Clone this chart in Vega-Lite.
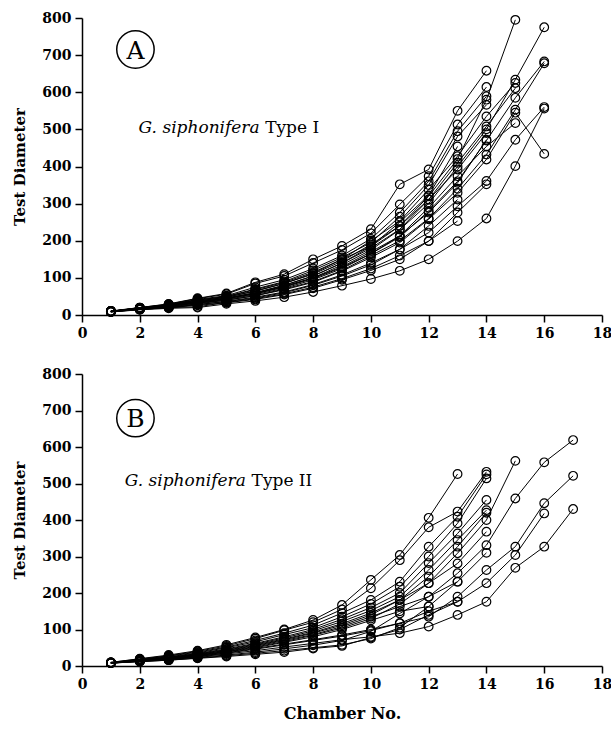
{
"$schema": "https://vega.github.io/schema/vega-lite/v6.json",
"background": "white",
"padding": {"left": 12, "top": 11, "right": 0, "bottom": 0},
"config": {
  "view": {"stroke": null},
  "axis": {"grid": false, "domainColor": "black", "domainWidth": 1.5, "tickColor": "black", "tickWidth": 1.5, "tickSize": 7, "labelOverlap": false, "labelFlush": false, "labelFont": "DejaVu Serif", "labelFontWeight": "bold", "labelFontSize": 14, "labelColor": "black", "labelPadding": 4, "titleFont": "DejaVu Serif", "titleFontWeight": "bold", "titleFontSize": 15, "titleColor": "black"},
  "axisX": {"labelOverlap": false, "labelFlush": false},
  "axisY": {"labelOverlap": false, "labelFlush": false}
},
"datasets": {
"A": [
{"s":"A1","c":1,"d":10},{"s":"A1","c":2,"d":18},{"s":"A1","c":3,"d":25},{"s":"A1","c":4,"d":35},{"s":"A1","c":5,"d":45},{"s":"A1","c":6,"d":60},{"s":"A1","c":7,"d":80},{"s":"A1","c":8,"d":105},{"s":"A1","c":9,"d":140},{"s":"A1","c":10,"d":185},{"s":"A1","c":11,"d":240},{"s":"A1","c":12,"d":320},{"s":"A1","c":13,"d":420},{"s":"A1","c":14,"d":580},{"s":"A1","c":15,"d":795},
{"s":"A2","c":1,"d":10},{"s":"A2","c":2,"d":17},{"s":"A2","c":3,"d":24},{"s":"A2","c":4,"d":33},{"s":"A2","c":5,"d":44},{"s":"A2","c":6,"d":58},{"s":"A2","c":7,"d":78},{"s":"A2","c":8,"d":100},{"s":"A2","c":9,"d":135},{"s":"A2","c":10,"d":175},{"s":"A2","c":11,"d":230},{"s":"A2","c":12,"d":300},{"s":"A2","c":13,"d":400},{"s":"A2","c":14,"d":500},{"s":"A2","c":15,"d":634},{"s":"A2","c":16,"d":775},
{"s":"A3","c":1,"d":9},{"s":"A3","c":2,"d":16},{"s":"A3","c":3,"d":23},{"s":"A3","c":4,"d":32},{"s":"A3","c":5,"d":42},{"s":"A3","c":6,"d":55},{"s":"A3","c":7,"d":72},{"s":"A3","c":8,"d":95},{"s":"A3","c":9,"d":125},{"s":"A3","c":10,"d":165},{"s":"A3","c":11,"d":210},{"s":"A3","c":12,"d":280},{"s":"A3","c":13,"d":360},{"s":"A3","c":14,"d":470},{"s":"A3","c":15,"d":585},{"s":"A3","c":16,"d":683},
{"s":"A4","c":1,"d":9},{"s":"A4","c":2,"d":16},{"s":"A4","c":3,"d":22},{"s":"A4","c":4,"d":30},{"s":"A4","c":5,"d":40},{"s":"A4","c":6,"d":52},{"s":"A4","c":7,"d":70},{"s":"A4","c":8,"d":90},{"s":"A4","c":9,"d":120},{"s":"A4","c":10,"d":160},{"s":"A4","c":11,"d":200},{"s":"A4","c":12,"d":260},{"s":"A4","c":13,"d":340},{"s":"A4","c":14,"d":432},{"s":"A4","c":15,"d":553},{"s":"A4","c":16,"d":678},
{"s":"A5","c":1,"d":8},{"s":"A5","c":2,"d":15},{"s":"A5","c":3,"d":20},{"s":"A5","c":4,"d":28},{"s":"A5","c":5,"d":37},{"s":"A5","c":6,"d":48},{"s":"A5","c":7,"d":62},{"s":"A5","c":8,"d":82},{"s":"A5","c":9,"d":108},{"s":"A5","c":10,"d":140},{"s":"A5","c":11,"d":177},{"s":"A5","c":12,"d":222},{"s":"A5","c":13,"d":293},{"s":"A5","c":14,"d":361},{"s":"A5","c":15,"d":472},{"s":"A5","c":16,"d":560},
{"s":"A6","c":1,"d":8},{"s":"A6","c":2,"d":14},{"s":"A6","c":3,"d":18},{"s":"A6","c":4,"d":20},{"s":"A6","c":5,"d":30},{"s":"A6","c":6,"d":38},{"s":"A6","c":7,"d":48},{"s":"A6","c":8,"d":62},{"s":"A6","c":9,"d":79},{"s":"A6","c":10,"d":97},{"s":"A6","c":11,"d":119},{"s":"A6","c":12,"d":150},{"s":"A6","c":13,"d":199},{"s":"A6","c":14,"d":260},{"s":"A6","c":15,"d":401},{"s":"A6","c":16,"d":556},
{"s":"A7","c":1,"d":10},{"s":"A7","c":2,"d":17},{"s":"A7","c":3,"d":24},{"s":"A7","c":4,"d":32},{"s":"A7","c":5,"d":40},{"s":"A7","c":6,"d":52},{"s":"A7","c":7,"d":68},{"s":"A7","c":8,"d":88},{"s":"A7","c":9,"d":118},{"s":"A7","c":10,"d":155},{"s":"A7","c":11,"d":195},{"s":"A7","c":12,"d":258},{"s":"A7","c":13,"d":329},{"s":"A7","c":14,"d":419},{"s":"A7","c":15,"d":545},{"s":"A7","c":16,"d":434},
{"s":"A8","c":1,"d":10},{"s":"A8","c":2,"d":19},{"s":"A8","c":3,"d":27},{"s":"A8","c":4,"d":37},{"s":"A8","c":5,"d":48},{"s":"A8","c":6,"d":64},{"s":"A8","c":7,"d":85},{"s":"A8","c":8,"d":112},{"s":"A8","c":9,"d":150},{"s":"A8","c":10,"d":200},{"s":"A8","c":11,"d":253},{"s":"A8","c":12,"d":338},{"s":"A8","c":13,"d":428},{"s":"A8","c":14,"d":535},{"s":"A8","c":15,"d":625},
{"s":"A9","c":1,"d":10},{"s":"A9","c":2,"d":18},{"s":"A9","c":3,"d":26},{"s":"A9","c":4,"d":35},{"s":"A9","c":5,"d":46},{"s":"A9","c":6,"d":60},{"s":"A9","c":7,"d":80},{"s":"A9","c":8,"d":105},{"s":"A9","c":9,"d":140},{"s":"A9","c":10,"d":180},{"s":"A9","c":11,"d":231},{"s":"A9","c":12,"d":311},{"s":"A9","c":13,"d":410},{"s":"A9","c":14,"d":508},{"s":"A9","c":15,"d":611},
{"s":"A10","c":1,"d":10},{"s":"A10","c":2,"d":18},{"s":"A10","c":3,"d":25},{"s":"A10","c":4,"d":34},{"s":"A10","c":5,"d":44},{"s":"A10","c":6,"d":57},{"s":"A10","c":7,"d":75},{"s":"A10","c":8,"d":98},{"s":"A10","c":9,"d":128},{"s":"A10","c":10,"d":165},{"s":"A10","c":11,"d":213},{"s":"A10","c":12,"d":289},{"s":"A10","c":13,"d":374},{"s":"A10","c":14,"d":454},{"s":"A10","c":15,"d":517},
{"s":"A11","c":1,"d":11},{"s":"A11","c":2,"d":20},{"s":"A11","c":3,"d":30},{"s":"A11","c":4,"d":45},{"s":"A11","c":5,"d":58},{"s":"A11","c":6,"d":88},{"s":"A11","c":7,"d":110},{"s":"A11","c":8,"d":150},{"s":"A11","c":9,"d":186},{"s":"A11","c":10,"d":231},{"s":"A11","c":11,"d":352},{"s":"A11","c":12,"d":392},{"s":"A11","c":13,"d":550},{"s":"A11","c":14,"d":658},
{"s":"A12","c":1,"d":10},{"s":"A12","c":2,"d":20},{"s":"A12","c":3,"d":29},{"s":"A12","c":4,"d":44},{"s":"A12","c":5,"d":56},{"s":"A12","c":6,"d":85},{"s":"A12","c":7,"d":105},{"s":"A12","c":8,"d":140},{"s":"A12","c":9,"d":175},{"s":"A12","c":10,"d":220},{"s":"A12","c":11,"d":298},{"s":"A12","c":12,"d":374},{"s":"A12","c":13,"d":513},{"s":"A12","c":14,"d":614},
{"s":"A13","c":1,"d":10},{"s":"A13","c":2,"d":19},{"s":"A13","c":3,"d":28},{"s":"A13","c":4,"d":42},{"s":"A13","c":5,"d":52},{"s":"A13","c":6,"d":75},{"s":"A13","c":7,"d":95},{"s":"A13","c":8,"d":125},{"s":"A13","c":9,"d":160},{"s":"A13","c":10,"d":205},{"s":"A13","c":11,"d":276},{"s":"A13","c":12,"d":360},{"s":"A13","c":13,"d":495},{"s":"A13","c":14,"d":589},
{"s":"A14","c":1,"d":10},{"s":"A14","c":2,"d":19},{"s":"A14","c":3,"d":27},{"s":"A14","c":4,"d":40},{"s":"A14","c":5,"d":50},{"s":"A14","c":6,"d":70},{"s":"A14","c":7,"d":90},{"s":"A14","c":8,"d":120},{"s":"A14","c":9,"d":155},{"s":"A14","c":10,"d":195},{"s":"A14","c":11,"d":265},{"s":"A14","c":12,"d":350},{"s":"A14","c":13,"d":481},{"s":"A14","c":14,"d":566},
{"s":"A15","c":1,"d":10},{"s":"A15","c":2,"d":18},{"s":"A15","c":3,"d":27},{"s":"A15","c":4,"d":38},{"s":"A15","c":5,"d":48},{"s":"A15","c":6,"d":65},{"s":"A15","c":7,"d":85},{"s":"A15","c":8,"d":110},{"s":"A15","c":9,"d":145},{"s":"A15","c":10,"d":190},{"s":"A15","c":11,"d":240},{"s":"A15","c":12,"d":311},{"s":"A15","c":13,"d":392},{"s":"A15","c":14,"d":490},
{"s":"A16","c":1,"d":10},{"s":"A16","c":2,"d":18},{"s":"A16","c":3,"d":26},{"s":"A16","c":4,"d":36},{"s":"A16","c":5,"d":45},{"s":"A16","c":6,"d":58},{"s":"A16","c":7,"d":76},{"s":"A16","c":8,"d":100},{"s":"A16","c":9,"d":130},{"s":"A16","c":10,"d":170},{"s":"A16","c":11,"d":213},{"s":"A16","c":12,"d":276},{"s":"A16","c":13,"d":356},{"s":"A16","c":14,"d":472},
{"s":"A17","c":1,"d":9},{"s":"A17","c":2,"d":15},{"s":"A17","c":3,"d":20},{"s":"A17","c":4,"d":26},{"s":"A17","c":5,"d":33},{"s":"A17","c":6,"d":42},{"s":"A17","c":7,"d":55},{"s":"A17","c":8,"d":72},{"s":"A17","c":9,"d":95},{"s":"A17","c":10,"d":120},{"s":"A17","c":11,"d":150},{"s":"A17","c":12,"d":199},{"s":"A17","c":13,"d":276},{"s":"A17","c":14,"d":352},
{"s":"A18","c":1,"d":10},{"s":"A18","c":2,"d":19},{"s":"A18","c":3,"d":28},{"s":"A18","c":4,"d":40},{"s":"A18","c":5,"d":50},{"s":"A18","c":6,"d":68},{"s":"A18","c":7,"d":88},{"s":"A18","c":8,"d":115},{"s":"A18","c":9,"d":150},{"s":"A18","c":10,"d":185},{"s":"A18","c":11,"d":250},{"s":"A18","c":12,"d":322},{"s":"A18","c":13,"d":454},
{"s":"A19","c":1,"d":9},{"s":"A19","c":2,"d":16},{"s":"A19","c":3,"d":21},{"s":"A19","c":4,"d":28},{"s":"A19","c":5,"d":36},{"s":"A19","c":6,"d":46},{"s":"A19","c":7,"d":60},{"s":"A19","c":8,"d":80},{"s":"A19","c":9,"d":105},{"s":"A19","c":10,"d":135},{"s":"A19","c":11,"d":177},{"s":"A19","c":12,"d":240},{"s":"A19","c":13,"d":311},
{"s":"A20","c":1,"d":9},{"s":"A20","c":2,"d":15},{"s":"A20","c":3,"d":20},{"s":"A20","c":4,"d":22},{"s":"A20","c":5,"d":34},{"s":"A20","c":6,"d":44},{"s":"A20","c":7,"d":57},{"s":"A20","c":8,"d":75},{"s":"A20","c":9,"d":98},{"s":"A20","c":10,"d":125},{"s":"A20","c":11,"d":160},{"s":"A20","c":12,"d":199},{"s":"A20","c":13,"d":253}
],
"B": [
{"s":"B1","c":1,"d":10},{"s":"B1","c":2,"d":20},{"s":"B1","c":3,"d":30},{"s":"B1","c":4,"d":42},{"s":"B1","c":5,"d":58},{"s":"B1","c":6,"d":78},{"s":"B1","c":7,"d":100},{"s":"B1","c":8,"d":126},{"s":"B1","c":9,"d":167},{"s":"B1","c":10,"d":236},{"s":"B1","c":11,"d":304},{"s":"B1","c":12,"d":406},{"s":"B1","c":13,"d":526},
{"s":"B2","c":1,"d":10},{"s":"B2","c":2,"d":19},{"s":"B2","c":3,"d":28},{"s":"B2","c":4,"d":40},{"s":"B2","c":5,"d":55},{"s":"B2","c":6,"d":75},{"s":"B2","c":7,"d":98},{"s":"B2","c":8,"d":120},{"s":"B2","c":9,"d":155},{"s":"B2","c":10,"d":213},{"s":"B2","c":11,"d":290},{"s":"B2","c":12,"d":380},{"s":"B2","c":13,"d":423},{"s":"B2","c":14,"d":532},
{"s":"B3","c":1,"d":9},{"s":"B3","c":2,"d":18},{"s":"B3","c":3,"d":27},{"s":"B3","c":4,"d":38},{"s":"B3","c":5,"d":52},{"s":"B3","c":6,"d":70},{"s":"B3","c":7,"d":90},{"s":"B3","c":8,"d":112},{"s":"B3","c":9,"d":145},{"s":"B3","c":10,"d":181},{"s":"B3","c":11,"d":231},{"s":"B3","c":12,"d":327},{"s":"B3","c":13,"d":409},{"s":"B3","c":14,"d":525},
{"s":"B4","c":1,"d":9},{"s":"B4","c":2,"d":17},{"s":"B4","c":3,"d":25},{"s":"B4","c":4,"d":36},{"s":"B4","c":5,"d":50},{"s":"B4","c":6,"d":66},{"s":"B4","c":7,"d":86},{"s":"B4","c":8,"d":105},{"s":"B4","c":9,"d":135},{"s":"B4","c":10,"d":170},{"s":"B4","c":11,"d":217},{"s":"B4","c":12,"d":300},{"s":"B4","c":13,"d":391},{"s":"B4","c":14,"d":514},
{"s":"B5","c":1,"d":9},{"s":"B5","c":2,"d":17},{"s":"B5","c":3,"d":24},{"s":"B5","c":4,"d":34},{"s":"B5","c":5,"d":47},{"s":"B5","c":6,"d":62},{"s":"B5","c":7,"d":80},{"s":"B5","c":8,"d":100},{"s":"B5","c":9,"d":128},{"s":"B5","c":10,"d":160},{"s":"B5","c":11,"d":200},{"s":"B5","c":12,"d":282},{"s":"B5","c":13,"d":363},{"s":"B5","c":14,"d":455},
{"s":"B6","c":1,"d":9},{"s":"B6","c":2,"d":16},{"s":"B6","c":3,"d":23},{"s":"B6","c":4,"d":33},{"s":"B6","c":5,"d":45},{"s":"B6","c":6,"d":60},{"s":"B6","c":7,"d":77},{"s":"B6","c":8,"d":96},{"s":"B6","c":9,"d":122},{"s":"B6","c":10,"d":152},{"s":"B6","c":11,"d":190},{"s":"B6","c":12,"d":263},{"s":"B6","c":13,"d":345},{"s":"B6","c":14,"d":427},
{"s":"B7","c":1,"d":9},{"s":"B7","c":2,"d":16},{"s":"B7","c":3,"d":23},{"s":"B7","c":4,"d":32},{"s":"B7","c":5,"d":43},{"s":"B7","c":6,"d":58},{"s":"B7","c":7,"d":74},{"s":"B7","c":8,"d":92},{"s":"B7","c":9,"d":116},{"s":"B7","c":10,"d":145},{"s":"B7","c":11,"d":181},{"s":"B7","c":12,"d":245},{"s":"B7","c":13,"d":327},{"s":"B7","c":14,"d":420},
{"s":"B8","c":1,"d":9},{"s":"B8","c":2,"d":16},{"s":"B8","c":3,"d":22},{"s":"B8","c":4,"d":31},{"s":"B8","c":5,"d":42},{"s":"B8","c":6,"d":56},{"s":"B8","c":7,"d":72},{"s":"B8","c":8,"d":90},{"s":"B8","c":9,"d":112},{"s":"B8","c":10,"d":140},{"s":"B8","c":11,"d":181},{"s":"B8","c":12,"d":227},{"s":"B8","c":13,"d":309},{"s":"B8","c":14,"d":400},{"s":"B8","c":15,"d":562},
{"s":"B9","c":1,"d":9},{"s":"B9","c":2,"d":15},{"s":"B9","c":3,"d":21},{"s":"B9","c":4,"d":30},{"s":"B9","c":5,"d":40},{"s":"B9","c":6,"d":54},{"s":"B9","c":7,"d":70},{"s":"B9","c":8,"d":86},{"s":"B9","c":9,"d":108},{"s":"B9","c":10,"d":135},{"s":"B9","c":11,"d":163},{"s":"B9","c":12,"d":190},{"s":"B9","c":13,"d":254},{"s":"B9","c":14,"d":331},{"s":"B9","c":15,"d":459},{"s":"B9","c":16,"d":558},{"s":"B9","c":17,"d":619},
{"s":"B10","c":1,"d":9},{"s":"B10","c":2,"d":15},{"s":"B10","c":3,"d":21},{"s":"B10","c":4,"d":29},{"s":"B10","c":5,"d":39},{"s":"B10","c":6,"d":52},{"s":"B10","c":7,"d":67},{"s":"B10","c":8,"d":84},{"s":"B10","c":9,"d":104},{"s":"B10","c":10,"d":130},{"s":"B10","c":11,"d":170},{"s":"B10","c":12,"d":227},{"s":"B10","c":13,"d":281},{"s":"B10","c":14,"d":368},
{"s":"B11","c":1,"d":8},{"s":"B11","c":2,"d":15},{"s":"B11","c":3,"d":20},{"s":"B11","c":4,"d":28},{"s":"B11","c":5,"d":38},{"s":"B11","c":6,"d":50},{"s":"B11","c":7,"d":65},{"s":"B11","c":8,"d":80},{"s":"B11","c":9,"d":100},{"s":"B11","c":10,"d":125},{"s":"B11","c":11,"d":150},{"s":"B11","c":12,"d":163},{"s":"B11","c":13,"d":231},{"s":"B11","c":14,"d":310},
{"s":"B12","c":1,"d":8},{"s":"B12","c":2,"d":14},{"s":"B12","c":3,"d":19},{"s":"B12","c":4,"d":27},{"s":"B12","c":5,"d":36},{"s":"B12","c":6,"d":48},{"s":"B12","c":7,"d":60},{"s":"B12","c":8,"d":72},{"s":"B12","c":9,"d":85},{"s":"B12","c":10,"d":100},{"s":"B12","c":11,"d":117},{"s":"B12","c":12,"d":135},{"s":"B12","c":13,"d":190},{"s":"B12","c":14,"d":263},{"s":"B12","c":15,"d":327},{"s":"B12","c":16,"d":446},{"s":"B12","c":17,"d":521},
{"s":"B13","c":1,"d":8},{"s":"B13","c":2,"d":14},{"s":"B13","c":3,"d":19},{"s":"B13","c":4,"d":26},{"s":"B13","c":5,"d":35},{"s":"B13","c":6,"d":46},{"s":"B13","c":7,"d":58},{"s":"B13","c":8,"d":70},{"s":"B13","c":9,"d":82},{"s":"B13","c":10,"d":97},{"s":"B13","c":11,"d":117},{"s":"B13","c":12,"d":150},{"s":"B13","c":13,"d":176},{"s":"B13","c":14,"d":227},{"s":"B13","c":15,"d":304},{"s":"B13","c":16,"d":418},
{"s":"B14","c":1,"d":8},{"s":"B14","c":2,"d":13},{"s":"B14","c":3,"d":18},{"s":"B14","c":4,"d":25},{"s":"B14","c":5,"d":33},{"s":"B14","c":6,"d":42},{"s":"B14","c":7,"d":52},{"s":"B14","c":8,"d":62},{"s":"B14","c":9,"d":72},{"s":"B14","c":10,"d":80},{"s":"B14","c":11,"d":90},{"s":"B14","c":12,"d":108},{"s":"B14","c":13,"d":140},{"s":"B14","c":14,"d":176},{"s":"B14","c":15,"d":269},{"s":"B14","c":16,"d":327},{"s":"B14","c":17,"d":430},
{"s":"B15","c":1,"d":8},{"s":"B15","c":2,"d":13},{"s":"B15","c":3,"d":17},{"s":"B15","c":4,"d":24},{"s":"B15","c":5,"d":30},{"s":"B15","c":6,"d":38},{"s":"B15","c":7,"d":47},{"s":"B15","c":8,"d":57},{"s":"B15","c":9,"d":70},{"s":"B15","c":10,"d":95},{"s":"B15","c":11,"d":144},{"s":"B15","c":12,"d":190},{"s":"B15","c":13,"d":231},
{"s":"B16","c":1,"d":8},{"s":"B16","c":2,"d":12},{"s":"B16","c":3,"d":16},{"s":"B16","c":4,"d":22},{"s":"B16","c":5,"d":28},{"s":"B16","c":6,"d":35},{"s":"B16","c":7,"d":42},{"s":"B16","c":8,"d":50},{"s":"B16","c":9,"d":58},{"s":"B16","c":10,"d":75},{"s":"B16","c":11,"d":105},{"s":"B16","c":12,"d":163},
{"s":"B17","c":1,"d":8},{"s":"B17","c":2,"d":12},{"s":"B17","c":3,"d":16},{"s":"B17","c":4,"d":21},{"s":"B17","c":5,"d":26},{"s":"B17","c":6,"d":32},{"s":"B17","c":7,"d":38},{"s":"B17","c":8,"d":48},{"s":"B17","c":9,"d":55},{"s":"B17","c":10,"d":78},{"s":"B17","c":11,"d":100},{"s":"B17","c":12,"d":140},{"s":"B17","c":13,"d":176}
]
},
"spacing": 27,
"vconcat": [
{
  "width": 520, "height": 297,
  "data": {"name": "A"},
  "layer": [
    {"mark": {"type": "line", "color": "black", "strokeWidth": 1},
     "encoding": {
       "x": {"field": "c", "type": "quantitative", "scale": {"domain": [0, 18], "nice": false}, "axis": {"values": [0,2,4,6,8,10,12,14,16,18], "title": null, "labelOverlap": false, "labelFlush": false}},
       "y": {"field": "d", "type": "quantitative", "scale": {"domain": [0, 800], "nice": false}, "axis": {"values": [0,100,200,300,400,500,600,700,800], "title": "Test Diameter", "titlePadding": 14, "labelOverlap": false, "labelFlush": false}},
       "detail": {"field": "s"}}},
    {"mark": {"type": "point", "shape": "circle", "filled": false, "stroke": "black", "strokeWidth": 1.2, "size": 75, "opacity": 1},
     "encoding": {
       "x": {"field": "c", "type": "quantitative", "axis": {"values": [0,2,4,6,8,10,12,14,16,18], "title": null, "labelOverlap": false, "labelFlush": false}},
       "y": {"field": "d", "type": "quantitative", "axis": {"values": [0,100,200,300,400,500,600,700,800], "title": "Test Diameter", "titlePadding": 14, "labelOverlap": false, "labelFlush": false}}}},
    {"data": {"values": [{"label": "A"}]},
     "mark": {"type": "point", "shape": "circle", "size": 1400, "filled": false, "stroke": "black", "strokeWidth": 1.5, "opacity": 1},
     "encoding": {
       "x": {"datum": 1.85, "type": "quantitative", "axis": {"values": [0,2,4,6,8,10,12,14,16,18], "title": null, "labelOverlap": false, "labelFlush": false}},
       "y": {"datum": 715, "type": "quantitative", "axis": {"values": [0,100,200,300,400,500,600,700,800], "title": "Test Diameter", "titlePadding": 14, "labelOverlap": false, "labelFlush": false}}}},
    {"data": {"values": [{"label": "A"}]},
     "mark": {"type": "text", "font": "DejaVu Serif", "fontSize": 25, "color": "black", "align": "center", "baseline": "middle", "dy": 1},
     "encoding": {
       "x": {"datum": 1.85, "type": "quantitative", "axis": {"values": [0,2,4,6,8,10,12,14,16,18], "title": null, "labelOverlap": false, "labelFlush": false}},
       "y": {"datum": 715, "type": "quantitative", "axis": {"values": [0,100,200,300,400,500,600,700,800], "title": "Test Diameter", "titlePadding": 14, "labelOverlap": false, "labelFlush": false}},
       "text": {"field": "label"}}},
    {"data": {"values": [{"label": "G. siphonifera"}]},
     "mark": {"type": "text", "font": "DejaVu Serif", "fontStyle": "italic", "fontSize": 17, "color": "black", "align": "left", "baseline": "alphabetic"},
     "encoding": {
       "x": {"datum": 1.96, "type": "quantitative", "axis": {"values": [0,2,4,6,8,10,12,14,16,18], "title": null, "labelOverlap": false, "labelFlush": false}},
       "y": {"datum": 491, "type": "quantitative", "axis": {"values": [0,100,200,300,400,500,600,700,800], "title": "Test Diameter", "titlePadding": 14, "labelOverlap": false, "labelFlush": false}},
       "text": {"field": "label"}}},
    {"data": {"values": [{"label": "Type I"}]},
     "mark": {"type": "text", "font": "DejaVu Serif", "fontSize": 17, "color": "black", "align": "left", "baseline": "alphabetic"},
     "encoding": {
       "x": {"datum": 6.34, "type": "quantitative", "axis": {"values": [0,2,4,6,8,10,12,14,16,18], "title": null, "labelOverlap": false, "labelFlush": false}},
       "y": {"datum": 491, "type": "quantitative", "axis": {"values": [0,100,200,300,400,500,600,700,800], "title": "Test Diameter", "titlePadding": 14, "labelOverlap": false, "labelFlush": false}},
       "text": {"field": "label"}}}
  ]
},
{
  "width": 520, "height": 292,
  "data": {"name": "B"},
  "layer": [
    {"mark": {"type": "line", "color": "black", "strokeWidth": 1},
     "encoding": {
       "x": {"field": "c", "type": "quantitative", "scale": {"domain": [0, 18], "nice": false}, "axis": {"values": [0,2,4,6,8,10,12,14,16,18], "title": "Chamber No.", "titleFontSize": 16, "titlePadding": 14, "labelOverlap": false, "labelFlush": false}},
       "y": {"field": "d", "type": "quantitative", "scale": {"domain": [0, 800], "nice": false}, "axis": {"values": [0,100,200,300,400,500,600,700,800], "title": "Test Diameter", "titlePadding": 14, "labelOverlap": false, "labelFlush": false}},
       "detail": {"field": "s"}}},
    {"mark": {"type": "point", "shape": "circle", "filled": false, "stroke": "black", "strokeWidth": 1.2, "size": 75, "opacity": 1},
     "encoding": {
       "x": {"field": "c", "type": "quantitative", "axis": {"values": [0,2,4,6,8,10,12,14,16,18], "title": "Chamber No.", "titleFontSize": 16, "titlePadding": 14, "labelOverlap": false, "labelFlush": false}},
       "y": {"field": "d", "type": "quantitative", "axis": {"values": [0,100,200,300,400,500,600,700,800], "title": "Test Diameter", "titlePadding": 14, "labelOverlap": false, "labelFlush": false}}}},
    {"data": {"values": [{"label": "B"}]},
     "mark": {"type": "point", "shape": "circle", "size": 1400, "filled": false, "stroke": "black", "strokeWidth": 1.5, "opacity": 1},
     "encoding": {
       "x": {"datum": 1.85, "type": "quantitative", "axis": {"values": [0,2,4,6,8,10,12,14,16,18], "title": "Chamber No.", "titleFontSize": 16, "titlePadding": 14, "labelOverlap": false, "labelFlush": false}},
       "y": {"datum": 679, "type": "quantitative", "axis": {"values": [0,100,200,300,400,500,600,700,800], "title": "Test Diameter", "titlePadding": 14, "labelOverlap": false, "labelFlush": false}}}},
    {"data": {"values": [{"label": "B"}]},
     "mark": {"type": "text", "font": "DejaVu Serif", "fontSize": 25, "color": "black", "align": "center", "baseline": "middle", "dy": 1},
     "encoding": {
       "x": {"datum": 1.85, "type": "quantitative", "axis": {"values": [0,2,4,6,8,10,12,14,16,18], "title": "Chamber No.", "titleFontSize": 16, "titlePadding": 14, "labelOverlap": false, "labelFlush": false}},
       "y": {"datum": 679, "type": "quantitative", "axis": {"values": [0,100,200,300,400,500,600,700,800], "title": "Test Diameter", "titlePadding": 14, "labelOverlap": false, "labelFlush": false}},
       "text": {"field": "label"}}},
    {"data": {"values": [{"label": "G. siphonifera"}]},
     "mark": {"type": "text", "font": "DejaVu Serif", "fontStyle": "italic", "fontSize": 17, "color": "black", "align": "left", "baseline": "alphabetic"},
     "encoding": {
       "x": {"datum": 1.48, "type": "quantitative", "axis": {"values": [0,2,4,6,8,10,12,14,16,18], "title": "Chamber No.", "titleFontSize": 16, "titlePadding": 14, "labelOverlap": false, "labelFlush": false}},
       "y": {"datum": 493, "type": "quantitative", "axis": {"values": [0,100,200,300,400,500,600,700,800], "title": "Test Diameter", "titlePadding": 14, "labelOverlap": false, "labelFlush": false}},
       "text": {"field": "label"}}},
    {"data": {"values": [{"label": "Type II"}]},
     "mark": {"type": "text", "font": "DejaVu Serif", "fontSize": 17, "color": "black", "align": "left", "baseline": "alphabetic"},
     "encoding": {
       "x": {"datum": 5.87, "type": "quantitative", "axis": {"values": [0,2,4,6,8,10,12,14,16,18], "title": "Chamber No.", "titleFontSize": 16, "titlePadding": 14, "labelOverlap": false, "labelFlush": false}},
       "y": {"datum": 493, "type": "quantitative", "axis": {"values": [0,100,200,300,400,500,600,700,800], "title": "Test Diameter", "titlePadding": 14, "labelOverlap": false, "labelFlush": false}},
       "text": {"field": "label"}}}
  ]
}
]
}
